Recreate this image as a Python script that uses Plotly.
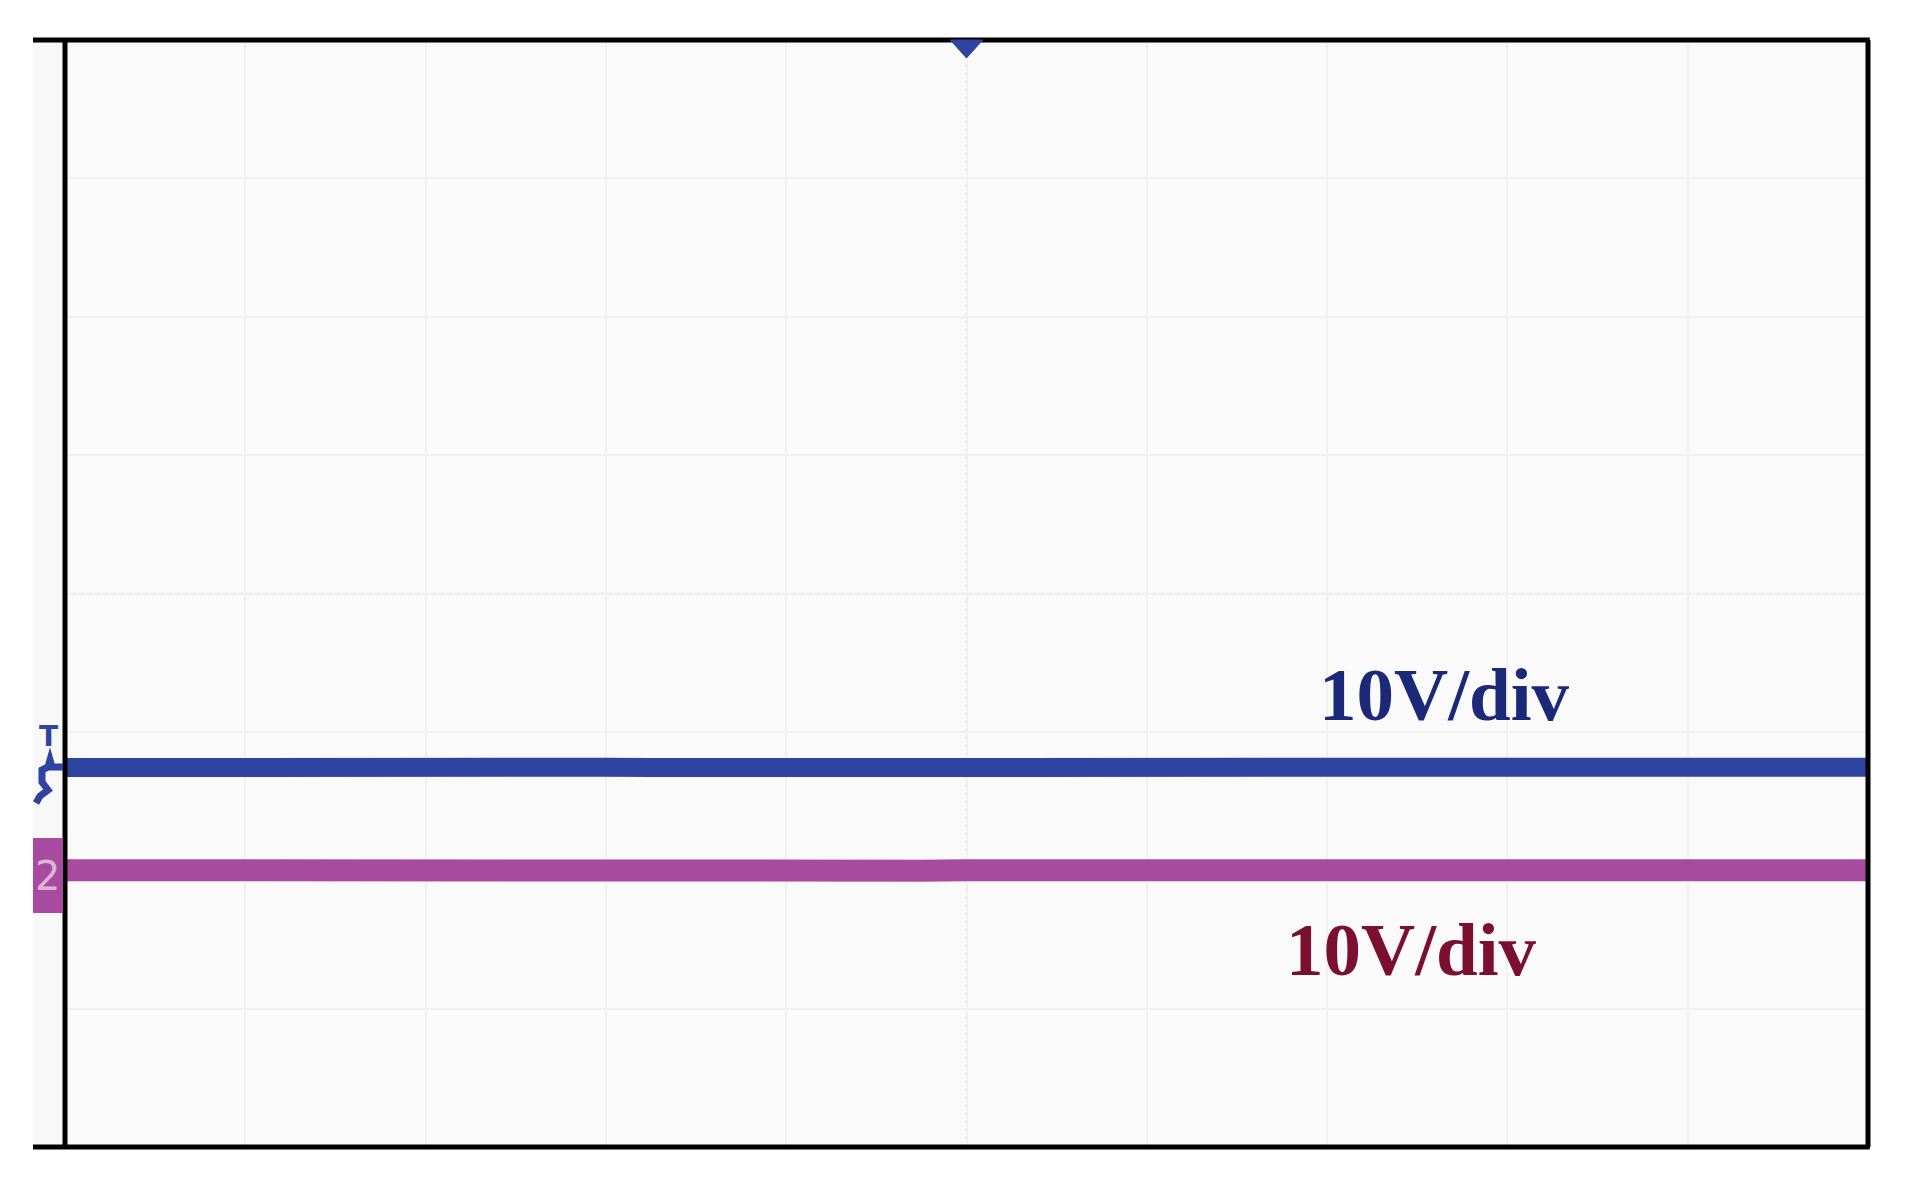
import plotly.graph_objects as go

# time axis in divisions (10 horizontal divisions)
time_div = [0.0, 0.25, 0.5, 0.75, 1.0, 1.25, 1.5, 1.75, 2.0, 2.25, 2.5, 2.75, 3.0,
            3.25, 3.5, 3.75, 4.0, 4.25, 4.5, 4.75, 5.0, 5.25, 5.5, 5.75, 6.0, 6.25,
            6.5, 6.75, 7.0, 7.25, 7.5, 7.75, 8.0, 8.25, 8.5, 8.75, 9.0, 9.25, 9.5,
            9.75, 10.0]

# channel 1 (blue), volts (10 V/div)
ch1_volts = [-12.58, -12.55, -12.57, -12.56, -12.55, -12.58, -12.56, -12.55, -12.57, -12.55,
             -12.57, -12.56, -12.55, -12.58, -12.56, -12.55, -12.57, -12.56, -12.55, -12.57,
             -12.56, -12.55, -12.57, -12.58, -12.55, -12.56, -12.57, -12.55, -12.56, -12.58,
             -12.55, -12.56, -12.57, -12.55, -12.56, -12.58, -12.55, -12.56, -12.57, -12.55,
             -12.56]

# channel 2 (magenta), volts (10 V/div)
ch2_volts = [-20.0, -20.02, -20.03, -20.01, -20.0, -20.03, -20.01, -20.0, -20.02, -20.01,
             -20.0, -20.03, -20.01, -20.0, -19.98, -20.01, -20.03, -20.0, -20.01, -20.03,
             -20.0, -20.01, -20.03, -20.0, -20.01, -20.03, -20.0, -20.01, -20.02, -20.0,
             -20.01, -20.03, -20.0, -20.01, -20.02, -20.0, -20.01, -20.03, -20.0, -20.01,
             -20.0]

label_text = "10V/div"

BLUE = "#2f43a0"
MAGENTA = "#a84aa0"

fig = go.Figure()
fig.add_trace(go.Scatter(x=time_div, y=ch2_volts, mode="lines",
                         line=dict(color=MAGENTA, width=22), hoverinfo="skip",
                         showlegend=False))
fig.add_trace(go.Scatter(x=time_div, y=ch1_volts, mode="lines",
                         line=dict(color=BLUE, width=19), hoverinfo="skip",
                         showlegend=False))

OFF = 8  # page body margin
W, H = 1892, 1171
L, T = 65 - OFF, 40 - OFF
R = W - (1868 - OFF)
B = H - (1147 - OFF)
pw = W - L - R
ph = H - T - B

def px_x(px):
    # px given in page (screenshot) coordinates
    return (px - OFF - L) / pw

def px_y(py):
    return 1 - (py - OFF - T) / ph

shapes = []
# left grey strip
shapes.append(dict(type="rect", xref="paper", yref="paper", x0=px_x(33), x1=0,
                   y0=0, y1=1, fillcolor="#f8f8f8", line=dict(width=0), layer="below"))
# center cross lines (dotted)
shapes.append(dict(type="line", xref="x", yref="paper", x0=5, x1=5, y0=0, y1=1,
                   line=dict(color="#d8d8d8", width=2, dash="2px,6px"), layer="below"))
shapes.append(dict(type="line", xref="paper", yref="y", x0=0, x1=1, y0=0, y1=0,
                   line=dict(color="#d8d8d8", width=2, dash="2px,6px"), layer="below"))
# borders
shapes.append(dict(type="line", xref="paper", yref="paper", x0=px_x(33), x1=1.001,
                   y0=1, y1=1, line=dict(color="black", width=5)))
shapes.append(dict(type="line", xref="paper", yref="paper", x0=px_x(33), x1=1.001,
                   y0=0, y1=0, line=dict(color="black", width=5)))
shapes.append(dict(type="line", xref="paper", yref="paper", x0=0, x1=0,
                   y0=0, y1=1, line=dict(color="black", width=5)))
shapes.append(dict(type="line", xref="paper", yref="paper", x0=1, x1=1,
                   y0=0, y1=1, line=dict(color="black", width=5)))
# trigger position marker (top, blue triangle)
shapes.append(dict(type="path", xref="x", yref="paper",
                   path=f"M 4.91,{px_y(40)} L 5.09,{px_y(40)} L 5,{px_y(58)} Z",
                   fillcolor=BLUE, line=dict(color=BLUE, width=1)))
# channel 2 marker box (left)
shapes.append(dict(type="rect", xref="paper", yref="paper", x0=px_x(33), x1=px_x(63),
                   y0=px_y(913), y1=px_y(838), fillcolor=MAGENTA, line=dict(width=0)))
# channel 1 ground marker (left, blue arrow)
shapes.append(dict(type="path", xref="paper", yref="paper",
                   path=(f"M {px_x(63)},{px_y(767)} L {px_x(52)},{px_y(767)} "
                         f"L {px_x(50)},{px_y(760)} L {px_x(48)},{px_y(767)} "
                         f"L {px_x(42)},{px_y(770)} L {px_x(42)},{px_y(782)} "
                         f"L {px_x(48)},{px_y(790)} L {px_x(40)},{px_y(796)} L {px_x(36)},{px_y(803)}"),
                   line=dict(color=BLUE, width=7)))

annotations = [
    dict(x=7.65, y=-7.3, xref="x", yref="y", text=f"<b>{label_text}</b>", showarrow=False,
         font=dict(family="Liberation Serif", size=75, color="#1c2878")),
    dict(x=7.47, y=-25.7, xref="x", yref="y", text=f"<b>{label_text}</b>", showarrow=False,
         font=dict(family="Liberation Serif", size=75, color="#7a0f30")),
    dict(x=px_x(48), y=px_y(736), xref="paper", yref="paper", text="<b>T</b>",
         xanchor="center", yanchor="middle",
         showarrow=False, font=dict(family="DejaVu Sans", size=28, color=BLUE)),
    dict(x=px_x(47), y=px_y(876), xref="paper", yref="paper", text="2",
         xanchor="center", yanchor="middle",
         showarrow=False, font=dict(family="DejaVu Sans", size=40, color="#dcb4d8")),
]

fig.update_layout(
    width=W, height=H,
    margin=dict(l=L, r=R, t=T, b=B),
    paper_bgcolor="white",
    plot_bgcolor="#fafafa",
    shapes=shapes,
    annotations=annotations,
    xaxis=dict(range=[0, 10], dtick=1, showticklabels=False, showgrid=True,
               gridcolor="#f1f1f1", gridwidth=2, zeroline=False, showline=False,
               ticks=""),
    yaxis=dict(range=[-40, 40], dtick=10, showticklabels=False, showgrid=True,
               gridcolor="#f1f1f1", gridwidth=2, zeroline=False, showline=False,
               ticks=""),
)

fig.write_html("out.html")
